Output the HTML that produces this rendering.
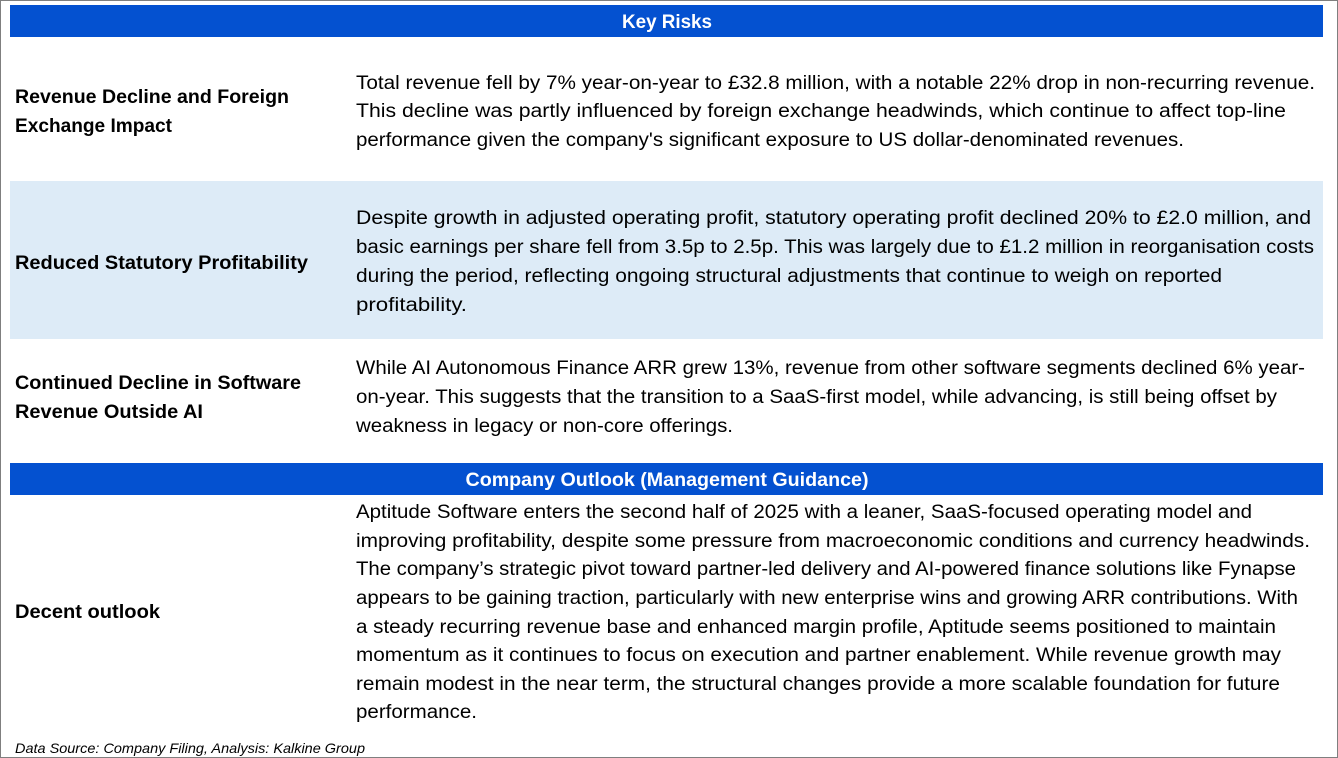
<!DOCTYPE html>
<html><head><meta charset="utf-8"><style>
html,body{margin:0;padding:0;background:#fff;}
svg{display:block;font-family:"Liberation Sans",sans-serif;}
</style></head><body>
<svg width="1338" height="758" viewBox="0 0 1338 758">
<rect x="0.5" y="0.5" width="1337" height="757" fill="#fff" stroke="#7f7f7f"/>
<rect x="10" y="5" width="1313" height="32" fill="#0451D0"/>
<text x="667" y="28" fill="#fff" font-weight="bold" font-size="19" text-anchor="middle" textLength="90" lengthAdjust="spacingAndGlyphs">Key Risks</text>
<rect x="10" y="181" width="1313" height="158" fill="#DDEBF7"/>
<rect x="10" y="463" width="1313" height="32" fill="#0451D0"/>
<text x="667" y="486" fill="#fff" font-weight="bold" font-size="19" text-anchor="middle" textLength="403" lengthAdjust="spacingAndGlyphs">Company Outlook (Management Guidance)</text>
<g font-weight="bold" font-size="19" fill="#000">
<text x="15" y="103" textLength="274" lengthAdjust="spacingAndGlyphs">Revenue Decline and Foreign</text>
<text x="15" y="132" textLength="157" lengthAdjust="spacingAndGlyphs">Exchange Impact</text>
<text x="15" y="269" textLength="293" lengthAdjust="spacingAndGlyphs">Reduced Statutory Profitability</text>
<text x="15" y="389" textLength="286" lengthAdjust="spacingAndGlyphs">Continued Decline in Software</text>
<text x="15" y="418" textLength="188" lengthAdjust="spacingAndGlyphs">Revenue Outside AI</text>
<text x="15" y="618" textLength="145" lengthAdjust="spacingAndGlyphs">Decent outlook</text>
</g>
<g font-size="19" fill="#000" lengthAdjust="spacingAndGlyphs">
<text x="356" y="89" textLength="959" lengthAdjust="spacingAndGlyphs">Total revenue fell by 7% year-on-year to £32.8 million, with a notable 22% drop in non-recurring revenue.</text>
<text x="356" y="117" textLength="930" lengthAdjust="spacingAndGlyphs">This decline was partly influenced by foreign exchange headwinds, which continue to affect top-line</text>
<text x="356" y="146" textLength="828" lengthAdjust="spacingAndGlyphs">performance given the company's significant exposure to US dollar-denominated revenues.</text>

<text x="356" y="224" textLength="955" lengthAdjust="spacingAndGlyphs">Despite growth in adjusted operating profit, statutory operating profit declined 20% to £2.0 million, and</text>
<text x="356" y="253" textLength="958" lengthAdjust="spacingAndGlyphs">basic earnings per share fell from 3.5p to 2.5p. This was largely due to £1.2 million in reorganisation costs</text>
<text x="356" y="282" textLength="866" lengthAdjust="spacingAndGlyphs">during the period, reflecting ongoing structural adjustments that continue to weigh on reported</text>
<text x="356" y="311" textLength="111" lengthAdjust="spacingAndGlyphs">profitability.</text>

<text x="356" y="374" textLength="949" lengthAdjust="spacingAndGlyphs">While AI Autonomous Finance ARR grew 13%, revenue from other software segments declined 6% year-</text>
<text x="356" y="403" textLength="921" lengthAdjust="spacingAndGlyphs">on-year. This suggests that the transition to a SaaS-first model, while advancing, is still being offset by</text>
<text x="356" y="432" textLength="377" lengthAdjust="spacingAndGlyphs">weakness in legacy or non-core offerings.</text>

<text x="356" y="518" textLength="896" lengthAdjust="spacingAndGlyphs">Aptitude Software enters the second half of 2025 with a leaner, SaaS-focused operating model and</text>
<text x="356" y="547" textLength="954" lengthAdjust="spacingAndGlyphs">improving profitability, despite some pressure from macroeconomic conditions and currency headwinds.</text>
<text x="356" y="575" textLength="940" lengthAdjust="spacingAndGlyphs">The company’s strategic pivot toward partner-led delivery and AI-powered finance solutions like Fynapse</text>
<text x="356" y="604" textLength="942" lengthAdjust="spacingAndGlyphs">appears to be gaining traction, particularly with new enterprise wins and growing ARR contributions. With</text>
<text x="356" y="633" textLength="920" lengthAdjust="spacingAndGlyphs">a steady recurring revenue base and enhanced margin profile, Aptitude seems positioned to maintain</text>
<text x="356" y="661" textLength="925" lengthAdjust="spacingAndGlyphs">momentum as it continues to focus on execution and partner enablement. While revenue growth may</text>
<text x="356" y="690" textLength="924" lengthAdjust="spacingAndGlyphs">remain modest in the near term, the structural changes provide a more scalable foundation for future</text>
<text x="356" y="718" textLength="121" lengthAdjust="spacingAndGlyphs">performance.</text>
</g>
<text x="15" y="753" font-size="14" font-style="italic" fill="#000" textLength="350" lengthAdjust="spacingAndGlyphs">Data Source: Company Filing, Analysis: Kalkine Group</text>
</svg>
</body></html>
